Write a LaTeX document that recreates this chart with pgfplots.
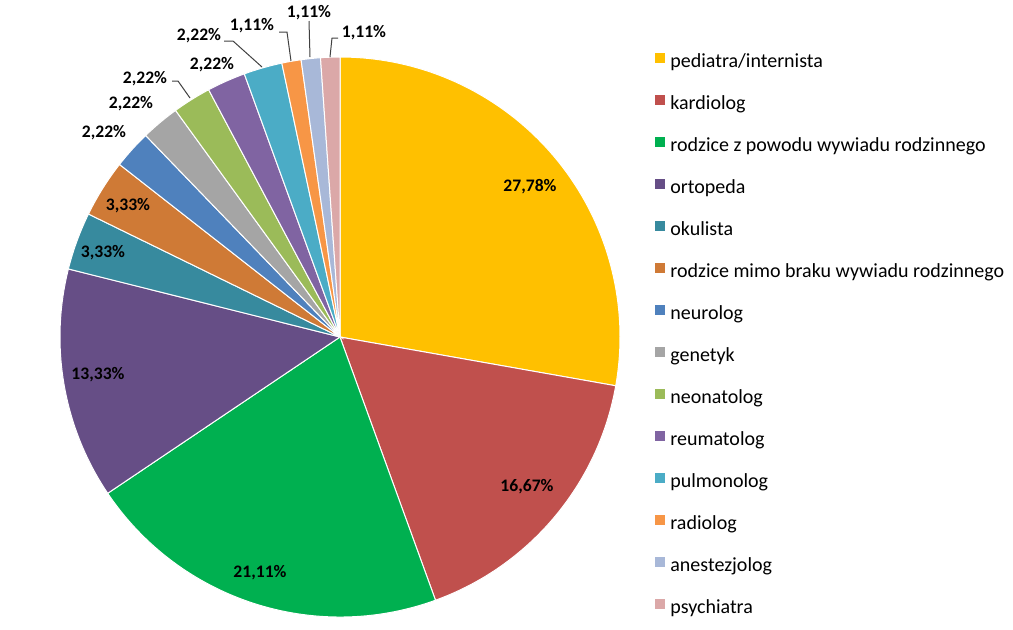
\documentclass[border=0pt]{standalone}
\usepackage{fontspec}
\setmainfont{Carlito}
\usepackage{pgfplots}
\usepackage{pgfplotstable}
\pgfplotsset{compat=1.18}

\definecolor{c0}{HTML}{FFC000}
\definecolor{c1}{HTML}{C0504D}
\definecolor{c2}{HTML}{00B050}
\definecolor{c3}{HTML}{664E86}
\definecolor{c4}{HTML}{378A9E}
\definecolor{c5}{HTML}{CF7A36}
\definecolor{c6}{HTML}{4F81BD}
\definecolor{c7}{HTML}{A5A5A5}
\definecolor{c8}{HTML}{9BBB59}
\definecolor{c9}{HTML}{8064A2}
\definecolor{c10}{HTML}{4BACC6}
\definecolor{c11}{HTML}{F79646}
\definecolor{c12}{HTML}{A8B8D8}
\definecolor{c13}{HTML}{DBA8A8}
\definecolor{leader}{HTML}{404040}

% share (%) per slice, label centre in picture pixels
\pgfplotstableread[col sep=comma]{
name,value,lx,ly
pediatra/internista,27.78,530,187
kardiolog,16.67,527,487
rodzice z powodu wywiadu rodzinnego,21.11,260,573
ortopeda,13.33,98,375
okulista,3.33,103,253
rodzice mimo braku wywiadu rodzinnego,3.33,128,206
neurolog,2.22,104,133
genetyk,2.22,131,104
neonatolog,2.22,145,79
reumatolog,2.22,212,65
pulmonolog,2.22,199,36
radiolog,1.11,252,26
anestezjolog,1.11,309,13
psychiatra,1.11,364,33
}\piedata

\tikzset{pielabel/.style={font=\bfseries\fontsize{8.8}{10}\selectfont, inner sep=0pt}}

\begin{document}
\begin{tikzpicture}
\begin{axis}[
  scale only axis,
  width=506.5pt, height=314.5pt,
  xmin=0, xmax=1013, ymin=0, ymax=629,
  y dir=reverse,
  hide axis,
  clip=false,
  legend cell align=left,
  legend image code/.code={\fill[#1, draw=none] (0pt,0.3pt) rectangle (5pt,5.3pt);},
  legend style={
    draw=none, fill=none, inner sep=0pt, outer sep=0pt,
    at={(axis cs:655,53.3)}, anchor=north west,
    row sep=11.7pt, column sep=2.7pt,
    font=\fontsize{10}{12}\selectfont,
    nodes={inner sep=0pt, outer sep=0pt, text height=6pt, text depth=2pt},
  },
]
% total of the shares
\gdef\pietotal{0}
\pgfplotsinvokeforeach{0,...,13}{
  \pgfplotstablegetelem{#1}{value}\of\piedata
  \pgfmathsetmacro\tmpsum{\pietotal+\pgfplotsretval}
  \xdef\pietotal{\tmpsum}
}
% slices, clockwise from 12 o'clock
\gdef\cumangle{90}
\pgfplotsinvokeforeach{0,...,13}{
  \pgfplotstablegetelem{#1}{value}\of\piedata
  \let\val\pgfplotsretval
  \pgfmathsetmacro\endangle{\cumangle-\val/\pietotal*360}
  \pgfplotstablegetelem{#1}{lx}\of\piedata
  \let\lx\pgfplotsretval
  \pgfplotstablegetelem{#1}{ly}\of\piedata
  \let\ly\pgfplotsretval
  \pgfplotstablegetelem{#1}{name}\of\piedata
  \let\nm\pgfplotsretval
  \edef\temp{%
    \noexpand\fill[c#1, draw=white, line width=0.5pt] (axis cs:340,337) -- ++(\cumangle:140pt)
      arc[start angle=\cumangle, end angle=\endangle, radius=140pt] -- cycle;
    \noexpand\node[pielabel] at (axis cs:\lx,\ly)
      {\noexpand\pgfmathprintnumber[fixed,fixed zerofill,precision=2,use comma,assume math mode=true]{\val}\noexpand\%};
    \noexpand\addlegendimage{fill=c#1}
    \noexpand\addlegendentry{\nm}
  }
  \temp
  \xdef\cumangle{\endangle}
}
% leader lines for the small slices
\draw[leader, line width=0.5pt] (axis cs:172,81) -- (axis cs:178,81) -- (axis cs:190,98);
\draw[leader, line width=0.5pt] (axis cs:224,41) -- (axis cs:233,41) -- (axis cs:262,67);
\draw[leader, line width=0.5pt] (axis cs:279,32) -- (axis cs:287,32) -- (axis cs:291,61);
\draw[leader, line width=0.5pt] (axis cs:309,21) -- (axis cs:310,57);
\draw[leader, line width=0.5pt] (axis cs:338,38) -- (axis cs:332,38) -- (axis cs:330,57);
\end{axis}
% the page is exactly the axis frame
\pgfresetboundingbox
\path[use as bounding box] (current axis.south west) rectangle (current axis.north east);
\end{tikzpicture}
\end{document}
